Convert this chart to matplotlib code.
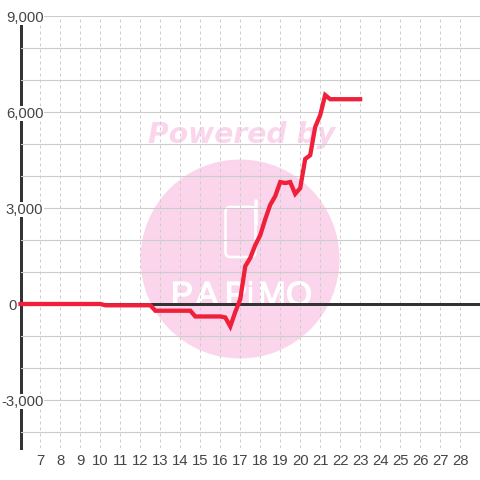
import matplotlib
matplotlib.use("Agg")
import matplotlib.pyplot as plt
import matplotlib.patheffects as pe
from matplotlib.patches import Circle, FancyBboxPatch
from matplotlib.ticker import FuncFormatter, MultipleLocator

hours = [6, 10, 10.25, 12.5, 12.75, 14.5, 14.75, 16, 16.25, 16.5, 16.75, 17,
         17.25, 17.5, 17.75, 18, 18.25, 18.5, 18.75, 19, 19.25, 19.5, 19.75,
         20, 20.25, 20.5, 20.75, 21, 21.25, 21.5, 23]
values = [0, 0, -40, -40, -210, -210, -390, -390, -420, -700, -250, 150,
          1180, 1440, 1840, 2150, 2650, 3100, 3370, 3810, 3780, 3810, 3440,
          3620, 4530, 4650, 5530, 5900, 6530, 6400, 6400]
x_ticks = list(range(7, 29))
y_ticks = [-3000, 0, 3000, 6000, 9000]

PX = 0.72  # points per pixel at dpi 100
RED = "#f0203a"
DARK = "#333333"
GRID = "#cccccc"
PINK = "#fbd5ec"

plt.rcParams["font.family"] = ["Liberation Sans", "DejaVu Sans"]
fig = plt.figure(figsize=(4.8, 4.8), dpi=100)

# watermark sits behind the chart, drawn in pixel coordinates
bg = fig.add_axes([0, 0, 1, 1], zorder=0)
bg.set_xlim(0, 480)
bg.set_ylim(480, 0)
bg.axis("off")
bg.add_patch(Circle((240, 259), 99.5, fc=PINK, ec="none"))
bg.text(242, 135, "Powered by", color=PINK, fontsize=20.3, fontweight="bold",
        fontstyle="italic", family="DejaVu Sans", ha="center", va="center")
bg.add_patch(FancyBboxPatch((225.5, 207), 30, 50, boxstyle="round,pad=0,rounding_size=5",
                            fc="none", ec="white", lw=2.6 * PX))
bg.plot([255.5, 255.5], [201, 225], color="white", lw=3.5 * PX, solid_capstyle="round")
for letter, xc in zip("PAPiMO", [182, 207, 236, 250, 272, 299]):
    bg.text(xc, 305, letter, color="white", fontsize=24, ha="center", va="baseline",
            path_effects=[pe.withStroke(linewidth=1, foreground="white")])

ax = fig.add_axes([20.5 / 480, 32 / 480, 459.5 / 480, 432 / 480], zorder=1)
ax.patch.set_visible(False)
ax.set_xlim(6, 29)
ax.set_ylim(-4500, 9000)

ax.set_axisbelow("line")
ax.xaxis.set_major_locator(plt.FixedLocator(x_ticks))
ax.yaxis.set_major_locator(plt.FixedLocator(y_ticks))
ax.yaxis.set_minor_locator(MultipleLocator(1000))
ax.yaxis.set_major_formatter(FuncFormatter(lambda v, _: f"{int(v):,}"))
ax.grid(True, axis="y", which="both", color=GRID, lw=1.1 * PX)
ax.grid(True, axis="x", which="major", color=GRID, lw=1 * PX, ls=(0, (3, 3)))
ax.tick_params(axis="both", which="both", length=0, labelsize=10.7, labelcolor="#444444")
ax.tick_params(axis="x", pad=4)
ax.tick_params(axis="y", pad=-16.5)
for tick, loc in zip(ax.yaxis.get_major_ticks(), y_ticks):
    tick.label1.set_bbox(dict(fc="white", ec="none", pad=0.6))
    if loc == 0:
        tick.set_pad(3)  # the 0 label sits left of the axis line

for name in ("top", "right", "bottom"):
    ax.spines[name].set_visible(False)
ax.spines["left"].set_color(DARK)
ax.spines["left"].set_linewidth(3 * PX)
ax.spines["left"].set_zorder(1)

ax.axhline(0, color=DARK, lw=3 * PX, zorder=1.8)
ax.plot(hours, values, color=RED, lw=4.3 * PX, zorder=2, clip_on=False,
        solid_joinstyle="miter", solid_capstyle="projecting")

fig.savefig("out.png", dpi=100)
